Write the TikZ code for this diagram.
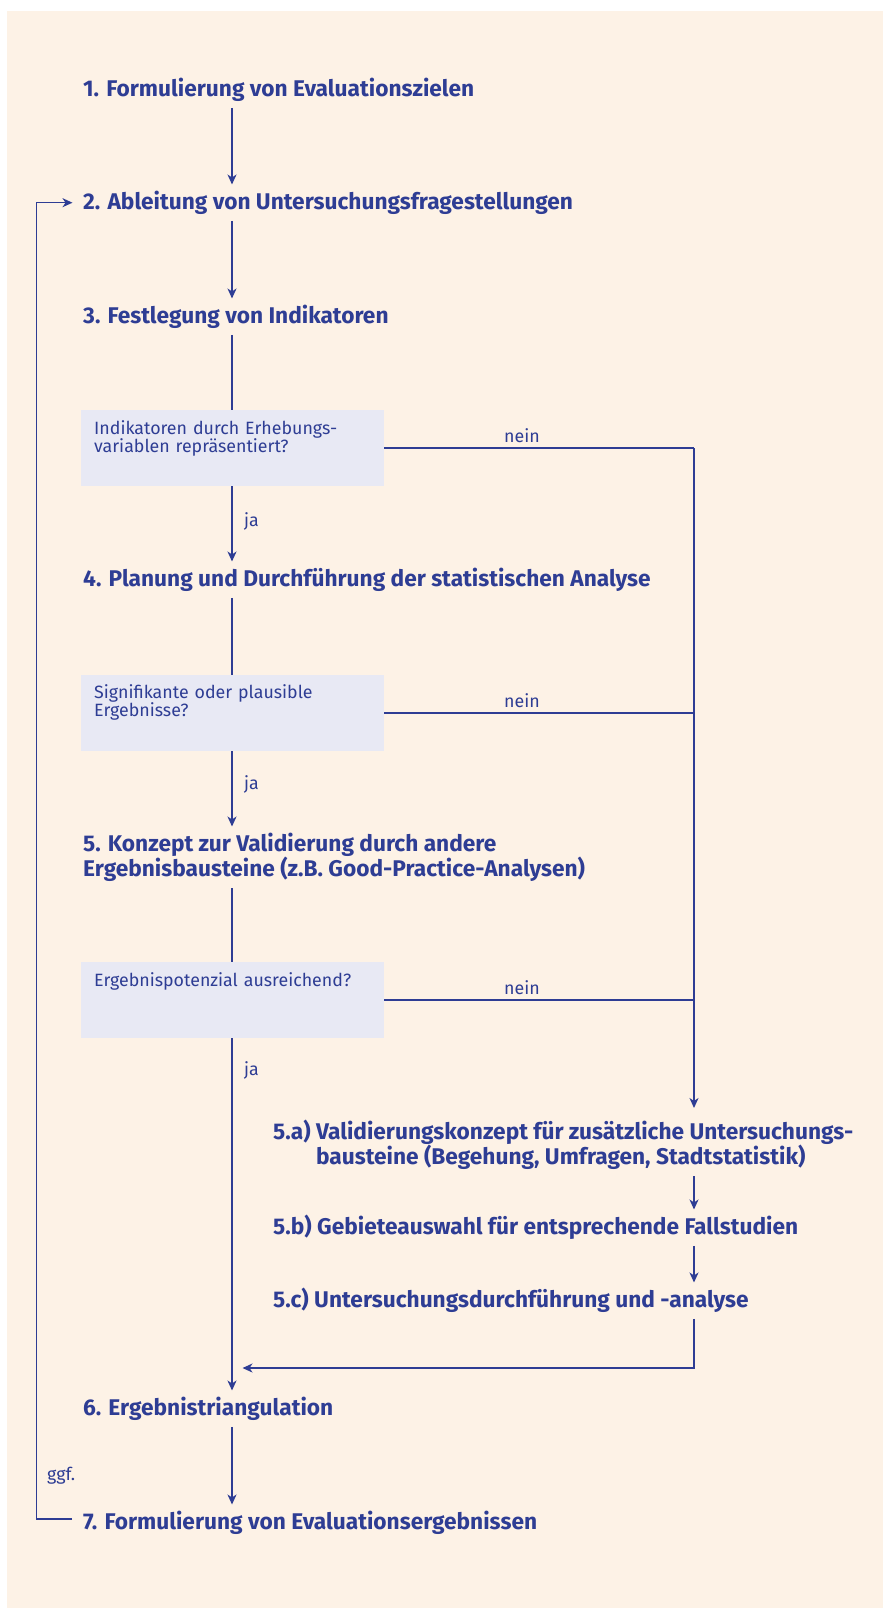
\documentclass[tikz,border=0pt]{standalone}
\usepackage{fontspec}
\setmainfont{Fira Sans}
\usetikzlibrary{arrows.meta,calc}
\definecolor{bgc}{RGB}{253,242,230}
\definecolor{boxc}{RGB}{232,233,244}
\definecolor{ink}{RGB}{46,61,148}
\newcommand\tstrut{\rule{0pt}{24.5pt}}
\newcommand\bstrut{\rule[-11.5pt]{0pt}{11.5pt}}
\begin{document}
\begin{tikzpicture}[x=1pt,y=-1pt,
 title/.style={anchor=north west, inner sep=0pt, align=left, font=\fontsize{22.7}{24}\selectfont\bfseries, text=ink},
 qbox/.style={anchor=north west, fill=boxc, inner xsep=13pt, inner ysep=0pt, text width=277pt, align=left, font=\fontsize{17.8}{18}\selectfont, text=ink},
 lbl/.style={anchor=base west, inner sep=0pt, font=\fontsize{17.8}{18}\selectfont, text=ink},
 conn/.style={draw=ink, line width=1.5pt},
 arr/.style={conn, -{Stealth[length=10pt,width=9pt,inset=3pt]}},
]
\useasboundingbox (0,0) rectangle (883,1608);
\fill[white] (0,0) rectangle (883,1608);
\fill[bgc] (7,11) rectangle (883,1608);

\coordinate (X) at (232,0);
\coordinate (R) at (694,0);
\coordinate (LX) at (36.7,0);

\node[title] (T1) at (83,71.5) {\tstrut 1. Formulierung von Evaluationszielen\bstrut};
\node[title] (T2) at (83,184.5) {\tstrut 2. Ableitung von Untersuchungsfragestellungen\bstrut};
\node[title] (T3) at (83,298.5) {\tstrut 3. Festlegung von Indikatoren\bstrut};
\node[title] (T4) at (83,561.5) {\tstrut 4. Planung und Durchführung der statistischen Analyse\bstrut};
\node[title] (T5) at (83,826.5) {\tstrut 5. Konzept zur Validierung durch andere\\Ergebnisbausteine (z.B. Good-Practice-Analysen)\bstrut};
\node[title] (T5a) at (273,1114.5) {\tstrut 5.a) Validierungskonzept für zusätzliche Untersuchungs-\\\phantom{5.a) }bausteine (Begehung, Umfragen, Stadtstatistik)\bstrut};
\node[title] (T5b) at (273,1209.5) {\tstrut 5.b) Gebieteauswahl für entsprechende Fallstudien\bstrut};
\node[title] (T5c) at (273,1282.5) {\tstrut 5.c) Untersuchungsdurchführung und -analyse\bstrut};
\node[title] (T6) at (83,1390.5) {\tstrut 6. Ergebnistriangulation\bstrut};
\node[title] (T7) at (83,1504.5) {\tstrut 7. Formulierung von Evaluationsergebnissen\bstrut};

\node[qbox] (B1) at (81,410) {\rule{0pt}{24pt}Indikatoren durch Erhebungs-\\variablen repräsentiert?\rule[-34pt]{0pt}{34pt}};
\node[qbox] (B2) at (81,675) {\rule{0pt}{23pt}Signifikante oder plausible\\Ergebnisse?\rule[-35pt]{0pt}{35pt}};
\node[qbox] (B3) at (81,962) {\rule{0pt}{24pt}Ergebnispotenzial ausreichend?\rule[-52pt]{0pt}{52pt}};

\node[lbl] (J1) at (244,526) {ja};
\node[lbl] (J2) at (244,789) {ja};
\node[lbl] (J3) at (244,1075.5) {ja};
\node[lbl,anchor=base] (N1) at (522,442) {nein};
\node[lbl,anchor=base] (N2) at (522,707) {nein};
\node[lbl,anchor=base] (N3) at (522,994) {nein};
\node[lbl] (G) at (47,1480) {ggf.};

\draw[arr] (T1.south -| X) -- (T2.north -| X);
\draw[arr] (T2.south -| X) -- (T3.north -| X);
\draw[conn] (T3.south -| X) -- (B1.north -| X);
\draw[arr] (B1.south -| X) -- (T4.north -| X);
\draw[conn] (T4.south -| X) -- (B2.north -| X);
\draw[arr] (B2.south -| X) -- (T5.north -| X);
\draw[conn] (T5.south -| X) -- (B3.north -| X);
\draw[arr] (B3.south -| X) -- (T6.north -| X);
\draw[arr] (T6.south -| X) -- (T7.north -| X);

\draw[conn] (B1.east) -- (B1.east -| R);
\draw[conn] (B2.east) -- (B2.east -| R);
\draw[conn] (B3.east) -- (B3.east -| R);
\draw[arr] (B1.east -| R) -- ([yshift=6.5pt]T5a.north -| R);
\draw[arr] (T5a.south -| R) -- (T5b.north -| R);
\draw[arr] (T5b.south -| R) -- (T5c.north -| R);
\coordinate (J) at (242.5,1368);
\draw[arr] (T5c.south -| R) |- (J);

\draw[arr] ([xshift=-11pt,yshift=3.5pt]T7.west) -| (T2.west -| LX) -- ([xshift=-10.5pt]T2.west);
\end{tikzpicture}
\end{document}
